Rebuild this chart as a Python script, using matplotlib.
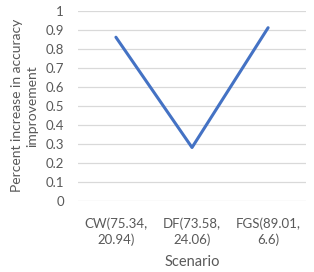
import matplotlib.pyplot as plt

scenarios = ["CW(75.34,\n20.94)", "DF(73.58,\n24.06)", "FGS(89.01,\n6.6)"]
improvement = [0.86, 0.28, 0.91]
y_ticks = [0, 0.1, 0.2, 0.3, 0.4, 0.5, 0.6, 0.7, 0.8, 0.9, 1]

TEXT_COLOR = "#595959"
plt.rcParams["font.family"] = ["Lato", "DejaVu Sans"]

fig = plt.figure(figsize=(3.14, 2.72), dpi=100)
ax = fig.add_axes([0.248, 0.262, 0.727, 0.699])

x = list(range(len(scenarios)))
ax.plot(x, improvement, color="#4472C4", linewidth=2.2, solid_capstyle="round")

ax.set_xlim(-0.5, len(scenarios) - 0.5)
ax.set_ylim(0, 1)
ax.set_yticks(y_ticks)
ax.set_yticklabels([f"{t:g}" for t in y_ticks])
ax.set_xticks(x)
ax.set_xticklabels(scenarios, linespacing=1.3)

ax.grid(axis="y", color="#D9D9D9", linewidth=0.9)
ax.set_axisbelow(True)
for side in ["top", "right", "left", "bottom"]:
    ax.spines[side].set_visible(False)
ax.tick_params(axis="both", length=0, labelsize=9.5, colors=TEXT_COLOR)
ax.tick_params(axis="x", pad=12)
ax.tick_params(axis="y", pad=10)

ax.set_xlabel("Scenario", fontsize=10.5, color=TEXT_COLOR, labelpad=7)
ax.set_ylabel("Percent increase in accuracy\nimprovement", fontsize=10,
              color=TEXT_COLOR, labelpad=5, linespacing=1.4)

fig.savefig("out.png", dpi=100)
